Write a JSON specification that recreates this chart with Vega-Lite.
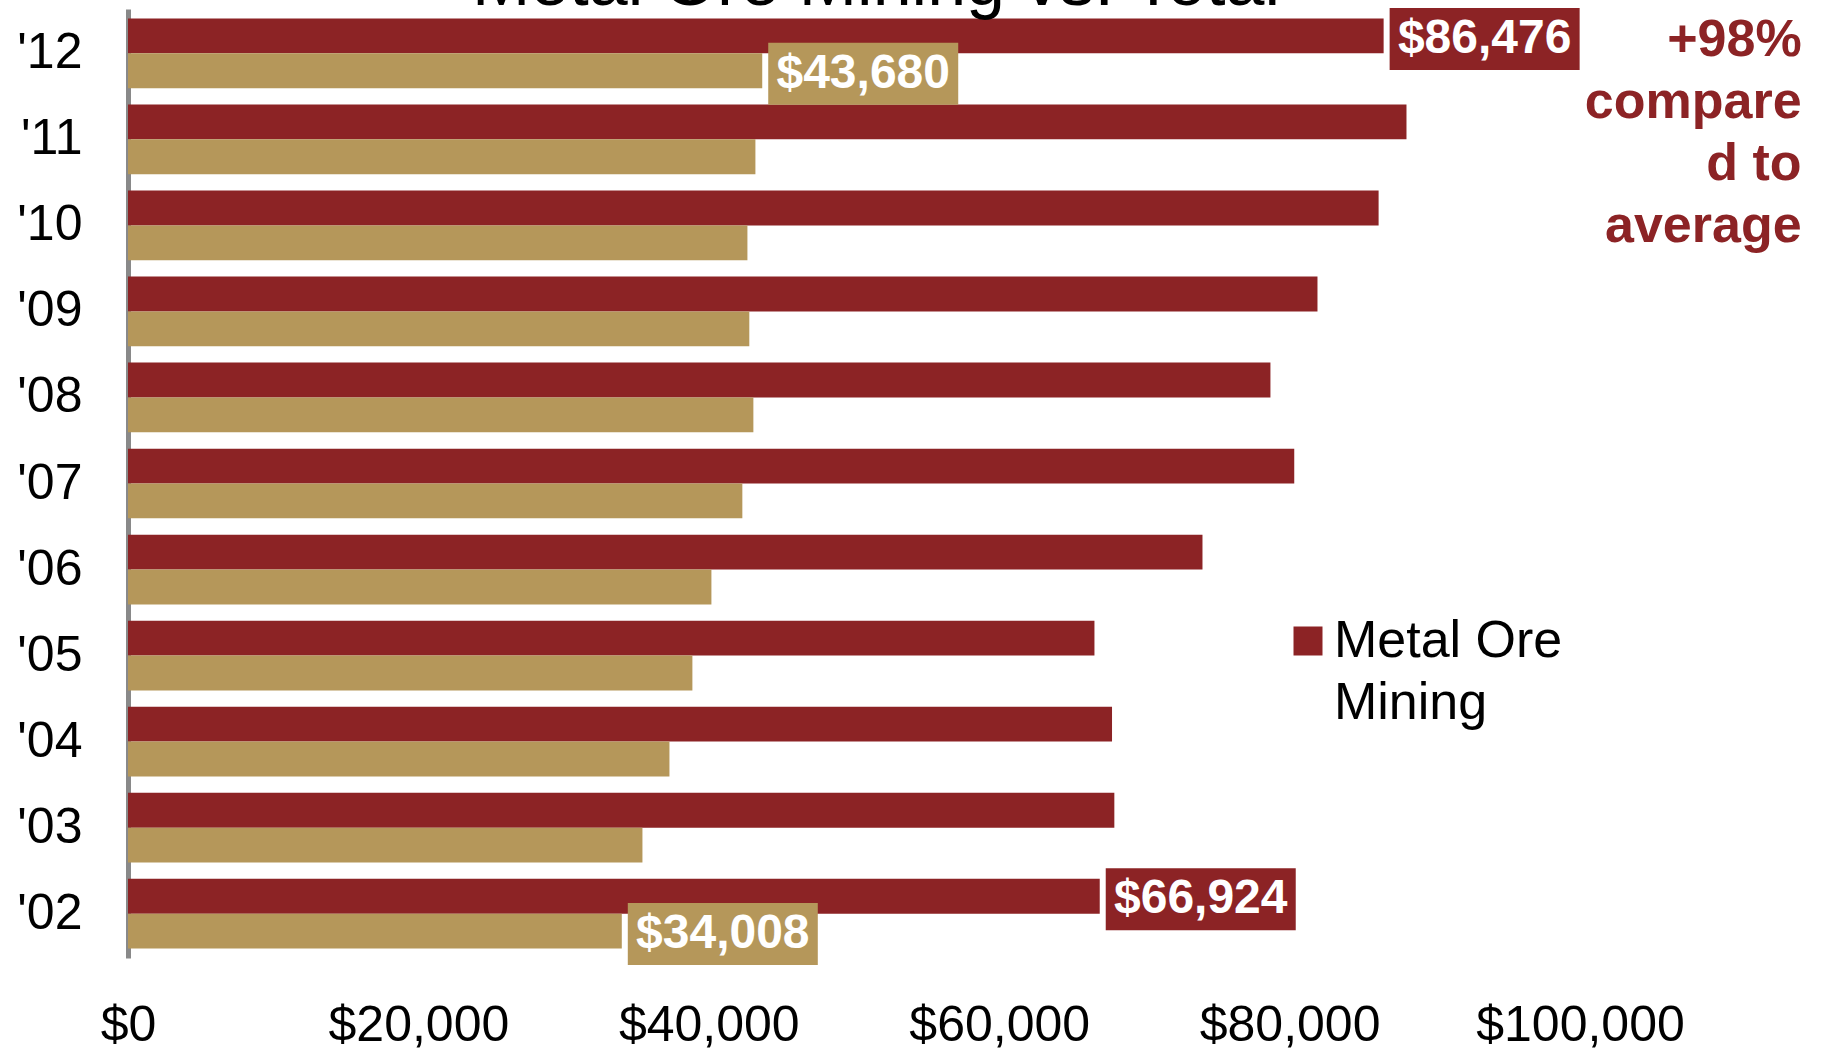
{
  "$schema": "https://vega.github.io/schema/vega-lite/v6.json",
  "autosize": {"type": "none"},
  "width": 1452,
  "height": 949,
  "padding": {"left": 128, "top": 9, "right": 241, "bottom": 92},
  "background": "white",
  "config": {
    "font": "Liberation Sans",
    "view": {"stroke": null},
    "axis": {"grid": false},
    "style": {"guide-label": {"lineHeight": 62}}
  },
  "title": {
    "text": "Metal Ore Mining vs. Total",
    "fontSize": 70,
    "fontWeight": "normal",
    "color": "black",
    "anchor": "middle",
    "baseline": "alphabetic",
    "offset": -67,
    "dx": 22
  },
  "datasets": {
    "bars": [
      {"year": "'12", "series": "Metal Ore Mining", "value": 86476},
      {"year": "'12", "series": "Total", "value": 43680},
      {"year": "'11", "series": "Metal Ore Mining", "value": 88050},
      {"year": "'11", "series": "Total", "value": 43210},
      {"year": "'10", "series": "Metal Ore Mining", "value": 86130},
      {"year": "'10", "series": "Total", "value": 42660},
      {"year": "'09", "series": "Metal Ore Mining", "value": 81920},
      {"year": "'09", "series": "Total", "value": 42790},
      {"year": "'08", "series": "Metal Ore Mining", "value": 78680},
      {"year": "'08", "series": "Total", "value": 43070},
      {"year": "'07", "series": "Metal Ore Mining", "value": 80320},
      {"year": "'07", "series": "Total", "value": 42310},
      {"year": "'06", "series": "Metal Ore Mining", "value": 74000},
      {"year": "'06", "series": "Total", "value": 40180},
      {"year": "'05", "series": "Metal Ore Mining", "value": 66560},
      {"year": "'05", "series": "Total", "value": 38870},
      {"year": "'04", "series": "Metal Ore Mining", "value": 67770},
      {"year": "'04", "series": "Total", "value": 37290},
      {"year": "'03", "series": "Metal Ore Mining", "value": 67930},
      {"year": "'03", "series": "Total", "value": 35430},
      {"year": "'02", "series": "Metal Ore Mining", "value": 66924},
      {"year": "'02", "series": "Total", "value": 34008}
    ],
    "note": [
      {"year": "'12", "value": 86476, "note": "+98%\ncompare\nd to\naverage"}
    ]
  },
  "encoding": {
    "y": {
      "field": "year",
      "type": "nominal",
      "sort": ["'12", "'11", "'10", "'09", "'08", "'07", "'06", "'05", "'04", "'03", "'02"],
      "scale": {"paddingInner": 0.19, "paddingOuter": 0.11},
      "axis": {
        "title": null,
        "ticks": false,
        "domainColor": "#898989",
        "domainWidth": 5,
        "labelFontSize": 50,
        "labelColor": "black",
        "labelPadding": 46
      }
    },
    "x": {
      "field": "value",
      "type": "quantitative",
      "scale": {"domain": [0, 100000], "nice": false},
      "axis": {
        "title": null,
        "values": [0, 20000, 40000, 60000, 80000, 100000],
        "format": "$,.0f",
        "ticks": false,
        "tickSize": 0,
        "domain": false,
        "labelFlush": false,
        "labelOverlap": false,
        "labelLimit": 500,
        "labelFontSize": 50,
        "labelColor": "black",
        "labelPadding": 42
      }
    }
  },
  "layer": [
    {
      "data": {"name": "bars"},
      "mark": {"type": "bar"},
      "encoding": {
        "yOffset": {
          "field": "series",
          "type": "nominal",
          "sort": ["Metal Ore Mining", "Total"],
          "scale": {"paddingInner": 0, "paddingOuter": 0}
        },
        "color": {
          "field": "series",
          "type": "nominal",
          "scale": {"domain": ["Metal Ore Mining", "Total"], "range": ["#8C2325", "#B5975A"]},
          "legend": {
            "orient": "none",
            "legendX": 1154,
            "legendY": 606,
            "title": null,
            "values": ["Metal Ore Mining"],
            "symbolType": "square",
            "symbolSize": 841,
            "symbolStrokeWidth": 0,
            "labelFontSize": 52,
            "labelColor": "black",
            "labelLimit": 600,
            "labelOffset": 0,
            "labelExpr": "datum.label == 'Metal Ore Mining' ? ['Metal Ore', 'Mining'] : datum.label"
          }
        }
      }
    },
    {
      "data": {"name": "bars"},
      "transform": [{"filter": "datum.year == \"'12\" || datum.year == \"'02\""}],
      "mark": {
        "type": "point",
        "shape": "M0.06,-0.28 L1.96,-0.28 L1.96,0.34 L0.06,0.34 Z",
        "size": 40000,
        "filled": true,
        "opacity": 1,
        "strokeWidth": 0
      },
      "encoding": {
        "yOffset": {
          "field": "series",
          "type": "nominal",
          "sort": ["Metal Ore Mining", "Total"],
          "scale": {"paddingInner": 0, "paddingOuter": 0}
        },
        "fill": {
          "field": "series",
          "type": "nominal",
          "scale": {"domain": ["Metal Ore Mining", "Total"], "range": ["#8C2325", "#B5975A"]},
          "legend": null
        }
      }
    },
    {
      "data": {"name": "bars"},
      "transform": [{"filter": "datum.year == \"'12\" || datum.year == \"'02\""}],
      "mark": {
        "type": "text",
        "color": "white",
        "fontSize": 48,
        "fontWeight": "bold",
        "align": "center",
        "baseline": "middle",
        "dx": 101,
        "dy": 3
      },
      "encoding": {
        "yOffset": {
          "field": "series",
          "type": "nominal",
          "sort": ["Metal Ore Mining", "Total"],
          "scale": {"paddingInner": 0, "paddingOuter": 0}
        },
        "text": {"field": "value", "type": "quantitative", "format": "$,.0f"}
      }
    },
    {
      "data": {"name": "note"},
      "mark": {
        "type": "text",
        "color": "#8C2325",
        "fontSize": 52,
        "fontWeight": "bold",
        "align": "right",
        "baseline": "alphabetic",
        "lineBreak": "\n",
        "lineHeight": 62,
        "dx": 418,
        "dy": 3
      },
      "encoding": {
        "text": {"field": "note"}
      }
    }
  ]
}
